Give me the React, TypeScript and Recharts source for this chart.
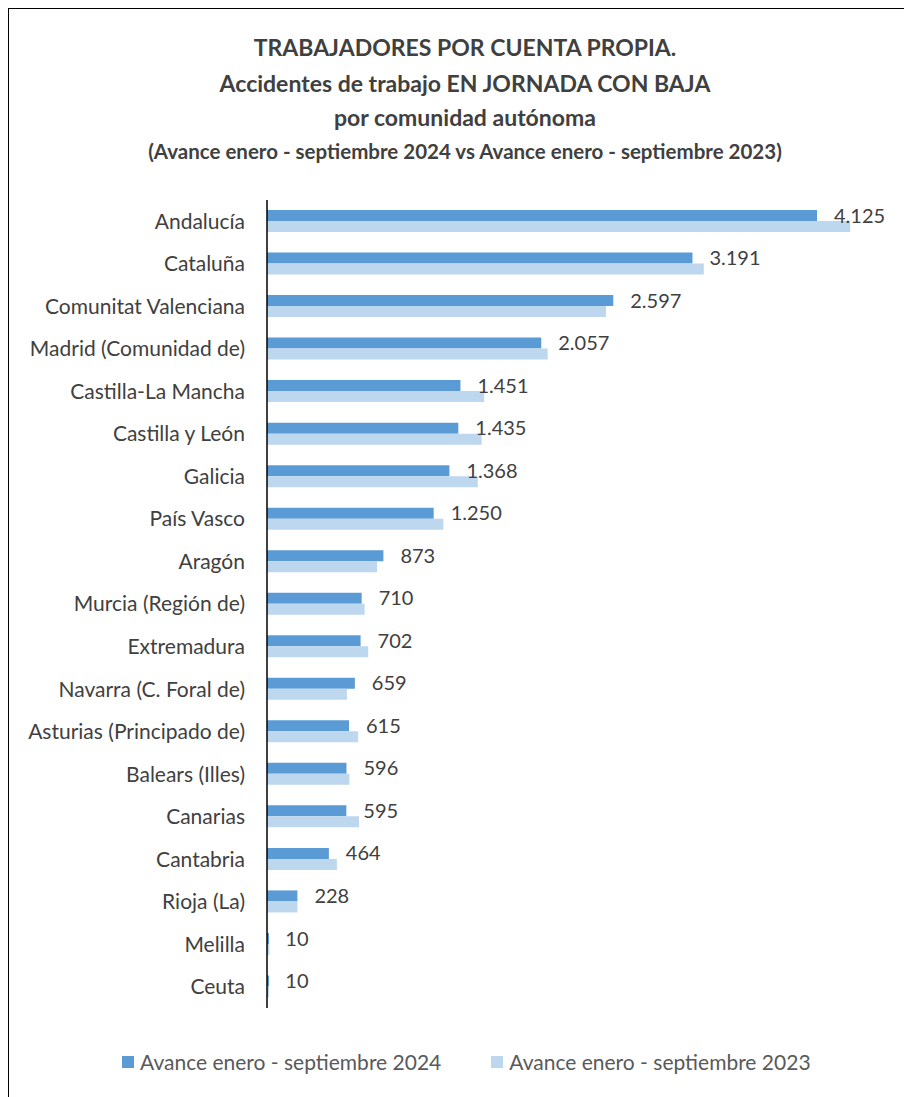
import * as React from "react";
import { BarChart, Bar, XAxis, YAxis, LabelList } from "recharts";

const categories = [
  "Andalucía",
  "Cataluña",
  "Comunitat Valenciana",
  "Madrid (Comunidad de)",
  "Castilla-La Mancha",
  "Castilla y León",
  "Galicia",
  "País Vasco",
  "Aragón",
  "Murcia (Región de)",
  "Extremadura",
  "Navarra (C. Foral de)",
  "Asturias (Principado de)",
  "Balears (Illes)",
  "Canarias",
  "Cantabria",
  "Rioja (La)",
  "Melilla",
  "Ceuta",
];

const values2024 = [4125, 3191, 2597, 2057, 1451, 1435, 1368, 1250, 873, 710, 702, 659, 615, 596, 595, 464, 228, 10, 10];
const values2023 = [4374, 3276, 2542, 2105, 1629, 1610, 1581, 1323, 825, 732, 759, 599, 684, 618, 690, 524, 228, 18, 9];

const seriesNames = ["Avance enero - septiembre 2024", "Avance enero - septiembre 2023"];
const colors = ["#5B9BD5", "#BDD7EE"];

const data = categories.map((c, i) => ({ name: c, y2024: values2024[i], y2023: values2023[i] }));

// thousands with a dot, as in the source sheet
const fmt = (v: any) => String(v).replace(/\B(?=(\d{3})+(?!\d))/g, ".");

const font = "Lato, 'Open Sans', sans-serif";

export default function App() {
  return (
    <div style={{ position: "relative", width: 914, height: 1100, border: "1.5px solid #000", boxSizing: "border-box", fontFamily: font, background: "#fff" }}>
      <div style={{ position: "absolute", top: 20, left: 0, width: "100%", textAlign: "center", color: "#404040", fontWeight: 700 }}>
        <div style={{ fontSize: 23, lineHeight: "37px" }}>TRABAJADORES POR CUENTA PROPIA.</div>
        <div style={{ fontSize: 23, lineHeight: "35px" }}>Accidentes de trabajo EN JORNADA CON BAJA</div>
        <div style={{ fontSize: 23, lineHeight: "33px" }}>por comunidad autónoma</div>
        <div style={{ fontSize: 20.5, lineHeight: "35px" }}>(Avance enero - septiembre 2024 vs Avance enero - septiembre 2023)</div>
      </div>

      <div style={{ position: "absolute", top: 0, left: 0 }}>
        <BarChart
          width={900}
          height={1040}
          data={data}
          layout="vertical"
          margin={{ top: 191, right: 42, bottom: 41, left: 0 }}
          barGap={0}
          barSize={11}
        >
          <XAxis type="number" domain={[0, 4500]} hide />
          <YAxis
            type="category"
            dataKey="name"
            width={258}
            tickSize={0}
            tickMargin={22}
            axisLine={{ stroke: "#000", strokeWidth: 1.5 }}
            tick={{ fontSize: 21, fill: "#404040", fontFamily: font }}
            interval={0}
          />
          <Bar dataKey="y2024" name={seriesNames[0]} fill={colors[0]} minPointSize={2} isAnimationActive={false} />
          <Bar dataKey="y2023" name={seriesNames[1]} fill={colors[1]} minPointSize={2} isAnimationActive={false} />
          {/* invisible carrier so the 2024 labels sit above both bars */}
          <Bar dataKey="y2024" fill="transparent" barSize={0} legendType="none" isAnimationActive={false}>
            <LabelList dataKey="y2024" position="right" offset={17} formatter={fmt} style={{ fontSize: 20, fill: "#404040", fontFamily: font }} />
          </Bar>
        </BarChart>
      </div>

      <div style={{ position: "absolute", top: 1040, left: 113, display: "flex", alignItems: "center", fontSize: 21, color: "#595959" }}>
        <span style={{ display: "inline-block", width: 12, height: 12, background: colors[0], marginRight: 6 }} />
        <span>{seriesNames[0]}</span>
        <span style={{ display: "inline-block", width: 12, height: 12, background: colors[1], marginLeft: 50, marginRight: 6 }} />
        <span>{seriesNames[1]}</span>
      </div>
    </div>
  );
}
